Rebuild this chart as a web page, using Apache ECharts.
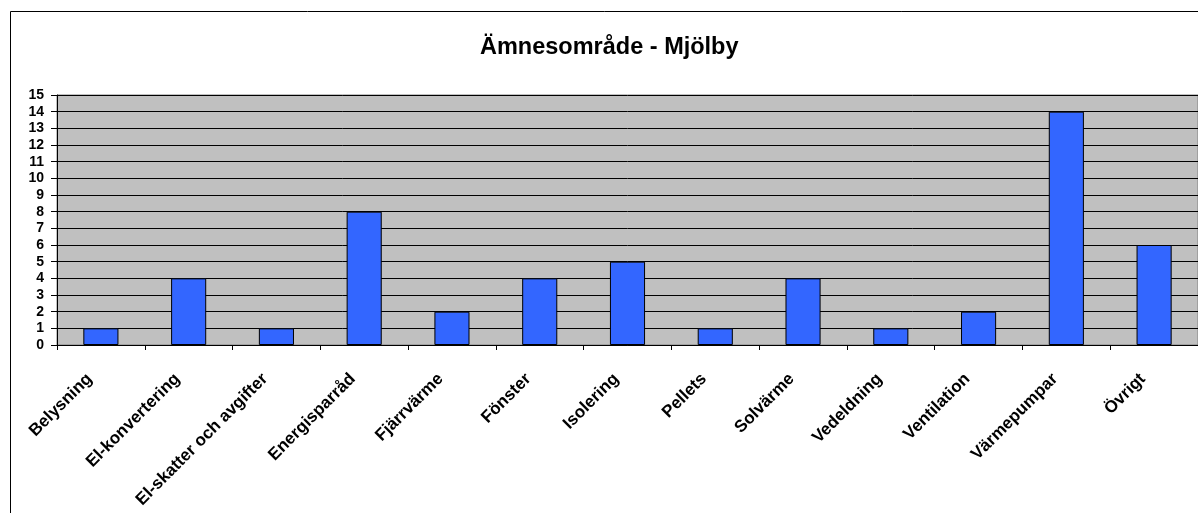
<!DOCTYPE html>
<html><head><meta charset="utf-8">
<script src="https://cdn.jsdelivr.net/npm/echarts@6/dist/echarts.min.js"></script>
<style>html,body{margin:0;padding:0;background:#fff}#c{width:1198px;height:513px}</style>
</head><body><div id="c"></div>
<script>
const titleText = 'Ämnesområde - Mjölby';
const categories = ['Belysning','El-konvertering','El-skatter och avgifter','Energisparråd','Fjärrvärme','Fönster','Isolering','Pellets','Solvärme','Vedeldning','Ventilation','Värmepumpar','Övrigt'];
const values = [1,4,1,8,2,4,5,1,4,1,2,14,6];
const yMin = 0, yMax = 15, yStep = 1;

const chart = echarts.init(document.getElementById('c'), null, {renderer:'canvas'});
const font = 'Liberation Sans, Arial, sans-serif';
chart.setOption({
  animation:false,
  backgroundColor:'#fff',
  title:{text:titleText,left:475,top:31,textStyle:{fontFamily:font,fontSize:23.5,fontWeight:'bold',color:'#000'}},
  graphic:[{type:'rect',shape:{x:10.5,y:11.5,width:1200,height:520},style:{fill:'none',stroke:'#000',lineWidth:1},silent:true}],
  grid:{left:57,top:95,width:1144,height:250,show:true,backgroundColor:'#C0C0C0',borderColor:'#808080',borderWidth:1},
  xAxis:{type:'category',data:categories,
    axisLine:{lineStyle:{color:'#000',width:1}},
    axisTick:{show:true,alignWithLabel:false,length:5,lineStyle:{color:'#000'}},
    axisLabel:{rotate:45,interval:0,margin:20,padding:[0,16,0,0],fontFamily:font,fontSize:17,fontWeight:'bold',color:'#000'}},
  yAxis:{type:'value',min:yMin,max:yMax,interval:yStep,
    axisLine:{show:true,lineStyle:{color:'#000',width:1}},
    axisTick:{show:true,length:6,lineStyle:{color:'#000'}},
    splitLine:{show:true,lineStyle:{color:'#000',width:1}},
    axisLabel:{margin:13,fontFamily:font,fontSize:14,fontWeight:'bold',color:'#000'}},
  series:[{type:'bar',data:values,barWidth:'40%',itemStyle:{color:'#3366FF',borderColor:'#000',borderWidth:1}}]
});
</script></body></html>
